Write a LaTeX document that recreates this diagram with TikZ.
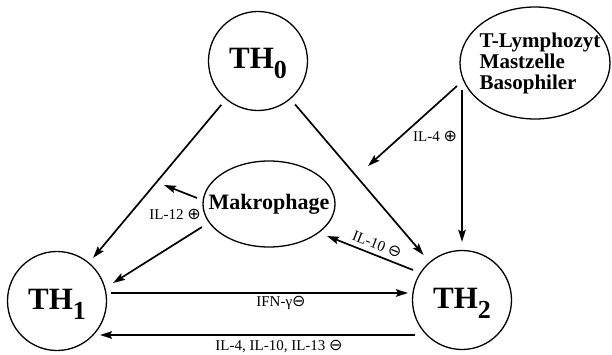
\documentclass[tikz,border=0pt]{standalone}
\usepackage{fontspec}
\setmainfont{Liberation Serif}
\newfontfamily\symfont{DejaVu Sans}
\usetikzlibrary{arrows.meta,calc,shapes.geometric}
\newcommand\thlabel[1]{TH\raisebox{-10pt}{\fontsize{26}{26}\selectfont #1}}
\newcommand\cplus{{\symfont\fontsize{16}{16}\selectfont ⊕}}
\newcommand\cminus{{\symfont\fontsize{16}{16}\selectfont ⊖}}
\begin{document}
\begin{tikzpicture}[x=1pt,y=-1pt,
  cell/.style={circle,draw,line width=1.3pt,minimum size=99pt,inner sep=0pt,
    font=\fontsize{31}{31}\selectfont\bfseries,text height=22pt,text depth=6pt},
  cloud/.style={ellipse,draw,line width=1.3pt,inner sep=0pt},
  cloudtext/.style={inner sep=0pt,font=\fontsize{21}{21}\selectfont\bfseries},
  arr/.style={line width=1.7pt,-{Stealth[length=12pt,width=7.5pt,inset=2pt]}},
  lab/.style={font=\fontsize{15}{15}\selectfont,inner sep=0pt}]
\useasboundingbox (0,0) rectangle (612,355);

% cells
\node[cell] (th0) at (258,61) {\thlabel{0}};
\node[cell] (th1) at (57,301) {\thlabel{1}};
\node[cell] (th2) at (462,300) {\thlabel{2}};

% Makrophage
\node[cloud,minimum width=132pt,minimum height=86pt] (mk) at (269,204) {};
\node[cloudtext,font=\fontsize{22}{22}\selectfont\bfseries] (mktxt) at (mk.center) {Makrophage};

% T-Lymphozyt ellipse
\node[cloud,minimum width=150pt,minimum height=112pt] (tl) at (535,63) {};
\node[cloudtext,align=left] (tltxt) at ([xshift=5pt]tl.center) {T-Lymphozyt\\Mastzelle\\Basophiler};

% free ends
\coordinate (il4end) at (368,166);
\coordinate (il12end) at (164,185);

% arrows
\draw[arr,shorten <=7pt,shorten >=6pt] (th0) -- (th1);
\draw[arr,shorten <=7pt,shorten >=9pt] (th0) -- (th2);
\draw[arr] ($(tl.center)+(-78,23)$) -- (il4end);
\draw[arr] ($(tl.center)+(-73,27)$) -- ([yshift=8pt]th2.north);
\draw[arr] ($(mk.center)+(-67,23)$) -- ($(th1.center)+(56,-18)$);
\draw[arr] ($(mk.center)+(-72,-6)$) -- (il12end);
\draw[arr] ($(th2.center)+(-49,-30)$) -- ($(mk.center)+(58,32)$);
\draw[arr] ($(th1.center)+(54,-8)$) -- ($(th2.center)+(-54,-7)$);
\draw[arr] ($(th2.center)+(-47,35)$) -- ($(th1.center)+(43,34)$);

% labels
\node[lab] (l4) at (435,136) {IL-4 \cplus};
\node[lab] (l12) at (175,214) {IL-12 \cplus};
\node[lab,rotate=-21.6] (l10) at (377,244) {IL-10 \cminus};
\node[lab] (lifn) at (281,303) {IFN-γ\cminus};
\node[lab] (lbot) at (279,347) {IL-4, IL-10, IL-13 \cminus};
\end{tikzpicture}
\end{document}
